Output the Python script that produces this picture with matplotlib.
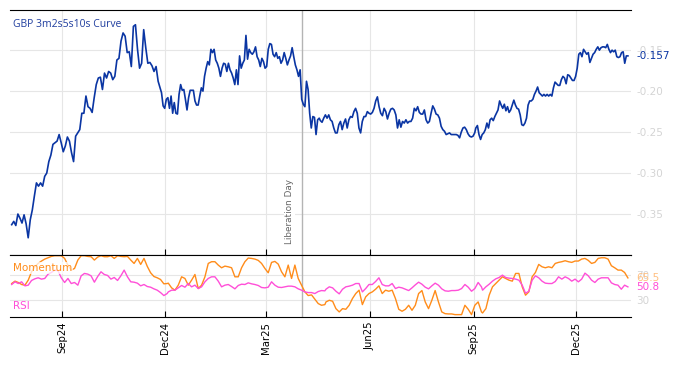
import matplotlib
matplotlib.use("Agg")
import matplotlib.pyplot as plt
import matplotlib.dates as mdates
import pandas as pd

# GBP 3m2s5s10s curve in four date segments
curve_seg1 = [
    -0.363, -0.359, -0.364, -0.350, -0.355, -0.361, -0.351, -0.362, -0.379, -0.357,
    -0.345, -0.328, -0.312, -0.316, -0.312, -0.316, -0.304, -0.300, -0.286, -0.278,
    -0.265, -0.263, -0.261, -0.253, -0.263, -0.274, -0.267, -0.256, -0.261, -0.275,
    -0.286, -0.255, -0.251, -0.247, -0.227, -0.227, -0.206, -0.219, -0.221, -0.226,
    -0.208, -0.192, -0.184, -0.183, -0.198, -0.178, -0.184, -0.176, -0.178, -0.186,
    -0.182, -0.162, -0.160, -0.139, -0.129, -0.133, -0.153, -0.152, -0.170, -0.121,
    -0.119, -0.149, -0.172, -0.166, -0.125, -0.147, -0.166, -0.165, -0.169, -0.176,
    -0.170, -0.188]
curve_seg2 = [
    -0.202, -0.218, -0.221, -0.210, -0.208, -0.221, -0.206, -0.227, -0.214, -0.227,
    -0.228, -0.204, -0.192, -0.199, -0.198, -0.210, -0.223, -0.208, -0.199, -0.199,
    -0.199, -0.212, -0.217, -0.217, -0.206, -0.196, -0.200, -0.182, -0.172, -0.164,
    -0.168, -0.149, -0.153, -0.149, -0.162, -0.166, -0.172, -0.182, -0.172, -0.166,
    -0.167, -0.176, -0.166, -0.174, -0.178, -0.184, -0.192, -0.174, -0.192, -0.157,
    -0.172, -0.166, -0.162, -0.132, -0.161, -0.149, -0.153, -0.155, -0.152, -0.146,
    -0.158, -0.162, -0.170, -0.160, -0.164, -0.172, -0.170, -0.149, -0.142, -0.143,
    -0.155, -0.158, -0.153, -0.160, -0.158, -0.166, -0.162, -0.153, -0.160, -0.168,
    -0.162, -0.157, -0.147, -0.158, -0.168, -0.174, -0.182, -0.174, -0.210, -0.216,
    -0.219, -0.188, -0.198, -0.227, -0.245, -0.231, -0.232, -0.253, -0.235, -0.233]
curve_seg3 = [
    -0.236, -0.238, -0.233, -0.229, -0.233, -0.229, -0.235, -0.237, -0.245, -0.251,
    -0.251, -0.241, -0.237, -0.247, -0.239, -0.234, -0.245, -0.235, -0.231, -0.232,
    -0.225, -0.221, -0.227, -0.245, -0.251, -0.237, -0.231, -0.231, -0.225, -0.227,
    -0.228, -0.226, -0.221, -0.212, -0.207, -0.219, -0.227, -0.230, -0.221, -0.225,
    -0.234, -0.227, -0.222, -0.221, -0.223, -0.229, -0.245, -0.235, -0.244, -0.237,
    -0.239, -0.235, -0.239, -0.237, -0.237, -0.233, -0.221, -0.224, -0.219, -0.226,
    -0.228, -0.228, -0.223, -0.235, -0.239, -0.237, -0.227, -0.218, -0.222, -0.228,
    -0.229, -0.233, -0.243, -0.247, -0.249, -0.253, -0.252, -0.251, -0.253, -0.253,
    -0.253, -0.253, -0.254, -0.257, -0.250, -0.245, -0.244, -0.247, -0.252, -0.255,
    -0.256, -0.255, -0.251]
curve_seg4 = [
    -0.245, -0.242, -0.253, -0.259, -0.253, -0.251, -0.247, -0.239, -0.245, -0.235,
    -0.233, -0.236, -0.231, -0.227, -0.223, -0.212, -0.217, -0.221, -0.216, -0.224,
    -0.219, -0.226, -0.223, -0.217, -0.211, -0.217, -0.221, -0.222, -0.229, -0.241,
    -0.242, -0.239, -0.233, -0.217, -0.212, -0.212, -0.210, -0.204, -0.200, -0.195,
    -0.202, -0.204, -0.206, -0.204, -0.206, -0.204, -0.206, -0.204, -0.206, -0.196,
    -0.189, -0.191, -0.193, -0.193, -0.186, -0.182, -0.184, -0.191, -0.180, -0.181,
    -0.184, -0.187, -0.187, -0.182, -0.172, -0.155, -0.153, -0.158, -0.149, -0.152,
    -0.155, -0.153, -0.165, -0.160, -0.155, -0.153, -0.149, -0.146, -0.150, -0.147,
    -0.146, -0.146, -0.147, -0.143, -0.149, -0.153, -0.150, -0.152, -0.150, -0.158,
    -0.159, -0.158, -0.153, -0.152, -0.166, -0.157, -0.157]
curve_spans = [("2024-07-18", "2024-11-25"), ("2024-11-28", "2025-04-17"),
               ("2025-04-18", "2025-09-02"), ("2025-09-03", "2026-01-16")]

# RSI and momentum, same four segments
rsi_seg1 = [54.7, 59.1, 56.3, 59.1, 52.5, 53.6, 61.3, 64.0, 65.7, 63.5,
            64.6, 71.7, 74.4, 78.3, 77.2, 65.7, 58.0, 64.6, 56.3, 58.0,
            53.6, 68.9, 72.8, 71.7, 68.9, 58.5, 67.8, 75.5, 71.1, 69.5,
            63.5, 66.2, 61.3, 68.9, 78.3, 67.3, 59.1, 58.5, 56.9, 52.5,
            54.7, 51.4, 50.3, 47.6, 45.4, 41.5, 36.6, 39.9]
rsi_seg2 = [42.6, 45.4, 45.4, 49.2, 53.1, 50.3, 56.3, 50.9, 53.6, 48.1,
            50.9, 59.1, 64.6, 67.3, 67.3, 60.2, 50.9, 53.6, 54.7, 51.4,
            47.6, 53.1, 55.2, 54.7, 57.4, 55.8, 54.7, 53.1, 49.8, 49.2,
            50.3, 59.1, 53.6, 50.3, 49.8, 50.9, 52.0, 52.0, 50.9, 47.6,
            45.4, 42.6, 41.5, 41.5, 39.9, 43.2, 44.8, 44.3]
rsi_seg3 = [47.0, 50.9, 49.2, 43.7, 39.4, 47.0, 50.9, 52.0, 53.6, 56.3,
            56.3, 42.6, 48.1, 54.7, 54.7, 59.6, 65.7, 54.7, 52.5, 52.5,
            56.3, 48.1, 50.3, 49.2, 47.0, 44.8, 49.2, 54.1, 58.5, 55.2,
            50.3, 47.6, 52.5, 56.9, 53.6, 47.6, 44.3, 43.7, 44.8, 44.8,
            45.4, 48.1, 54.7, 50.3, 43.7, 48.1, 58.0, 50.9]
rsi_seg4 = [45.4, 50.9, 55.2, 60.2, 64.0, 66.2, 70.0, 66.2, 65.1, 64.6,
            63.5, 61.8, 53.6, 40.4, 43.7, 61.8, 68.9, 65.7, 60.2, 56.9,
            56.3, 56.3, 59.6, 67.3, 63.5, 67.3, 64.6, 60.2, 63.5, 59.1,
            63.5, 73.3, 68.9, 61.8, 58.0, 63.5, 65.7, 65.7, 65.7, 57.4,
            54.7, 53.6, 47.0, 53.6, 50.8]
mom_seg1 = [56.3, 60.2, 58.0, 54.7, 53.6, 61.8, 75.5, 83.7, 89.2, 93.1,
            96.3, 98.5, 100.7, 101.8, 101.8, 101.8, 97.4, 86.5, 78.3, 81.0,
            94.7, 101.8, 101.8, 100.7, 100.2, 94.7, 99.6, 101.8, 100.2, 100.2,
            101.8, 97.4, 101.8, 100.7, 100.2, 100.7, 94.7, 89.2, 97.4, 87.6,
            97.4, 84.3, 73.9, 67.8, 65.7, 62.9, 55.8, 56.3]
mom_seg2 = [56.9, 49.2, 45.4, 53.6, 67.3, 64.6, 53.6, 61.8, 71.1, 48.1,
            53.6, 67.3, 89.2, 92.0, 92.0, 86.5, 82.1, 84.8, 83.7, 82.1,
            67.3, 67.3, 82.1, 92.0, 98.0, 97.4, 96.3, 94.2, 89.2, 81.0,
            73.9, 90.9, 92.5, 88.1, 75.5, 67.3, 86.5, 64.6, 86.5, 64.6,
            53.6, 42.6, 36.6, 37.7, 30.6, 23.5, 20.7, 21.8]
mom_seg3 = [26.2, 28.9, 27.3, 15.2, 9.8, 15.2, 14.1, 20.7, 31.7, 39.9,
            45.4, 21.8, 34.4, 39.9, 42.6, 47.0, 52.5, 39.9, 45.4, 43.7,
            45.4, 31.7, 14.1, 10.9, 14.1, 20.7, 12.5, 20.7, 39.9, 44.8,
            26.2, 15.2, 28.9, 44.8, 26.2, 9.8, 7.0, 6.5, 6.5, 5.4,
            5.4, 5.4, 20.7, 14.1, 5.4, 20.7, 26.2, 9.8]
mom_seg4 = [8.1, 15.2, 37.2, 50.9, 56.3, 61.8, 67.3, 64.6, 61.8, 60.2,
            72.8, 72.8, 50.9, 37.2, 42.6, 67.3, 74.4, 87.6, 83.7, 82.1,
            83.7, 82.1, 89.2, 90.9, 92.0, 93.6, 92.0, 90.9, 93.1, 93.1,
            96.3, 97.4, 94.2, 89.2, 90.9, 97.4, 98.5, 98.5, 96.3, 85.4,
            82.1, 78.3, 78.3, 74.4, 65.5]
ind_spans = [("2024-07-18", "2024-12-03"), ("2024-12-04", "2025-04-22"),
             ("2025-04-23", "2025-09-08"), ("2025-09-09", "2026-01-16")]

curve_ticks = [-0.35, -0.30, -0.25, -0.20, -0.15]
ind_ticks = [30, 70]
event_date = "2025-04-02"
event_label = "Liberation Day"


def to_series(segments, spans):
    parts = []
    for vals, (start, end) in zip(segments, spans):
        idx = pd.date_range(start, end, periods=len(vals))
        parts.append(pd.Series(vals, index=idx))
    return pd.concat(parts)


curve = to_series([curve_seg1, curve_seg2, curve_seg3, curve_seg4], curve_spans)
rsi = to_series([rsi_seg1, rsi_seg2, rsi_seg3, rsi_seg4], ind_spans)
mom = to_series([mom_seg1, mom_seg2, mom_seg3, mom_seg4], ind_spans)

blue = "#0a35a3"
orange = "#ff8c1a"
magenta = "#ff4fd8"
grid_c = "#e6e6e6"
label_c = "#d4d4d4"

fig = plt.figure(figsize=(6.78, 3.66), dpi=100)
ax1 = fig.add_axes([10 / 678, 1 - 255 / 366, 621 / 678, 245 / 366])
ax2 = fig.add_axes([10 / 678, 1 - 317 / 366, 621 / 678, 62 / 366], sharex=ax1)

ax1.plot(curve.index, curve.values, color=blue, lw=1.2)
ax2.plot(mom.index, mom.values, color=orange, lw=1.0)
ax2.plot(rsi.index, rsi.values, color=magenta, lw=1.0)

ev = pd.Timestamp(event_date)
for ax in (ax1, ax2):
    ax.axvline(ev, color="#b4b4b4", lw=1.0, zorder=1)
    ax.grid(True, color=grid_c, lw=0.8)
    ax.set_axisbelow(True)
    ax.spines["left"].set_visible(False)
    ax.spines["right"].set_visible(False)
    ax.yaxis.tick_right()
    ax.tick_params(axis="y", length=0, pad=4, labelsize=7.5, labelcolor=label_c)
    ax.tick_params(axis="x", direction="in", length=4)

ax1.set_xlim(pd.Timestamp("2024-07-16 12:00"), pd.Timestamp("2026-01-18 18:00"))
ax1.set_ylim(-0.40, -0.101)
ax1.set_yticks(curve_ticks)
ax1.yaxis.set_major_formatter(plt.FormatStrFormatter("%.2f"))
ax1.tick_params(axis="x", labelbottom=False)

ax2.set_ylim(1.5, 103)
ax2.set_yticks(ind_ticks)
ax2.xaxis.set_major_locator(mdates.MonthLocator(bymonth=[3, 6, 9, 12]))
ax2.xaxis.set_major_formatter(mdates.DateFormatter("%b%y"))
ax2.tick_params(axis="x", labelrotation=90, labelsize=7.3)

ax1.text(0.005, 0.94, "GBP 3m2s5s10s Curve", transform=ax1.transAxes,
         color="#1f3d9e", fontsize=7.5, family="Open Sans", va="center", ha="left")
ax1.annotate(event_label, xy=(ev, -0.386), xytext=(-6, 0), textcoords="offset points",
             rotation=90, ha="right", va="bottom", fontsize=6.4, color="#666666",
             bbox=dict(fc="white", ec="none", pad=0.8))

ax2.text(0.005, 0.79, "Momentum", transform=ax2.transAxes, color=orange, fontsize=7.5,
         va="center", ha="left", bbox=dict(fc="white", ec="none", alpha=0.75, pad=0.5))
ax2.text(0.005, 0.18, "RSI", transform=ax2.transAxes, color=magenta, fontsize=7.5,
         va="center", ha="left")

# last value labels on the right
ax1.annotate("%.3f" % curve.iloc[-1], xy=(1, curve.iloc[-1]), xycoords=("axes fraction", "data"),
             xytext=(4, 0), textcoords="offset points", va="center", ha="left",
             fontsize=7.5, color=blue)
ax2.annotate("%.1f" % mom.iloc[-1], xy=(1, mom.iloc[-1]), xycoords=("axes fraction", "data"),
             xytext=(4, 0), textcoords="offset points", va="center", ha="left",
             fontsize=7.5, color="#ffbf80")
ax2.annotate("%.1f" % rsi.iloc[-1], xy=(1, rsi.iloc[-1]), xycoords=("axes fraction", "data"),
             xytext=(4, 0), textcoords="offset points", va="center", ha="left",
             fontsize=7.5, color=magenta)

fig.savefig("out.png", dpi=100)
plt.close(fig)
